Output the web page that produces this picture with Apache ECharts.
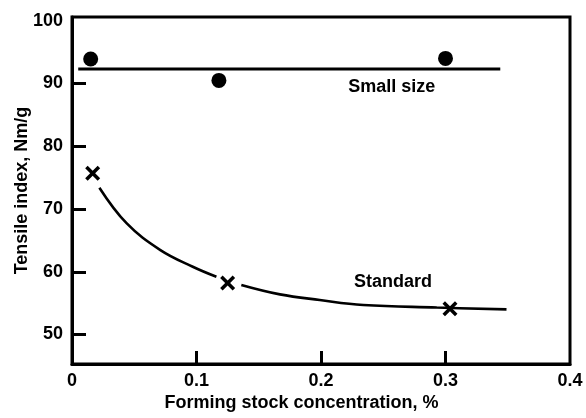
<!DOCTYPE html>
<html>
<head>
<meta charset="utf-8">
<script src="https://cdn.jsdelivr.net/npm/echarts@6/dist/echarts.min.js"></script>
<style>html,body{margin:0;padding:0;background:#fff}#c{width:586px;height:418px}</style>
</head>
<body>
<div id="c"></div>
<script>
// Data
var xTicks = [0, 0.1, 0.2, 0.3, 0.4];
var yTicks = [50, 60, 70, 80, 90, 100];
var smallX = [0.015, 0.118, 0.300];
var smallY = [93.9, 90.5, 94.0];
var smallFitX = [0.005, 0.344];
var smallFitY = [92.33, 92.33];
var stdX = [0.0166, 0.125, 0.3036];
var stdY = [75.7, 58.2, 54.1];
var curve1X = [0.022, 0.044, 0.071, 0.097, 0.116];
var curve1Y = [73.4, 67.7, 63.45, 60.8, 59.2];
var curve2X = [0.136, 0.167, 0.199, 0.234, 0.293, 0.349];
var curve2Y = [57.9, 56.4, 55.5, 54.7, 54.3, 54.0];
var annX = [0.2568, 0.2578];
var annY = [89.4, 58.4];
var annText = ['Small size', 'Standard'];

function zip(a, b) { return a.map(function (v, i) { return [v, b[i]]; }); }
var curveData = zip(curve1X, curve1Y).concat([[null, null]]).concat(zip(curve2X, curve2Y));
var annData = annX.map(function (v, i) { return { value: [v, annY[i]], name: annText[i] }; });

var font = '"Liberation Sans", Arial, sans-serif';
var xShape = 'path://M0,2L2,0L6,4L10,0L12,2L8,6L12,10L10,12L6,8L2,12L0,10L4,6Z';

var chart = echarts.init(document.getElementById('c'), null, { renderer: 'canvas' });
chart.setOption({
  animation: false,
  backgroundColor: '#fff',
  grid: { left: 72, right: 16, top: 17, bottom: 54, show: true, borderColor: '#000', borderWidth: 3,
    containLabel: false, outerBoundsMode: 'none' },
  xAxis: {
    type: 'value', min: 0, max: 0.4,
    name: 'Forming stock concentration, %', nameLocation: 'middle', nameGap: 30, nameMoveOverlap: false,
    nameTextStyle: { fontFamily: font, fontWeight: 'bold', fontSize: 18, color: '#000', padding: [0, 39, 0, 0] },
    axisLine: { show: true, lineStyle: { color: '#000', width: 3 } },
    axisTick: { show: true, inside: true, length: 13, lineStyle: { color: '#000', width: 3 }, customValues: [0.1, 0.2, 0.3] },
    axisLabel: { show: true, margin: 8, fontFamily: font, fontWeight: 'bold', fontSize: 18, color: '#000', customValues: xTicks,
      formatter: function (v) { return String(v); } },
    splitLine: { show: false }
  },
  yAxis: {
    type: 'value', min: 45.3, max: 100.6,
    name: 'Tensile index, Nm/g', nameLocation: 'middle', nameGap: 41, nameMoveOverlap: false,
    nameTextStyle: { fontFamily: font, fontWeight: 'bold', fontSize: 18, color: '#000' },
    axisLine: { show: true, lineStyle: { color: '#000', width: 3 } },
    axisTick: { show: true, inside: true, length: 14, lineStyle: { color: '#000', width: 3 }, customValues: [50, 60, 70, 80, 90] },
    axisLabel: { show: true, margin: 9, fontFamily: font, fontWeight: 'bold', fontSize: 18, color: '#000', customValues: yTicks },
    splitLine: { show: false }
  },
  series: [
    { type: 'line', data: zip(smallFitX, smallFitY), showSymbol: false, symbol: 'none',
      lineStyle: { color: '#000', width: 3 }, z: 2 },
    { type: 'line', data: curveData, smooth: 0.4, connectNulls: false, showSymbol: false, symbol: 'none',
      lineStyle: { color: '#000', width: 2.6 }, z: 2 },
    { type: 'scatter', data: zip(smallX, smallY), symbol: 'circle', symbolSize: 15,
      itemStyle: { color: '#000', opacity: 1 }, z: 3 },
    { type: 'scatter', data: zip(stdX, stdY), symbol: xShape, symbolSize: 15,
      itemStyle: { color: '#000', opacity: 1 }, z: 3 },
    { type: 'scatter', data: annData, symbolSize: 0, silent: true, itemStyle: { opacity: 1 },
      label: { show: true, position: 'inside', formatter: '{b}', fontFamily: font, fontWeight: 'bold', fontSize: 18, color: '#000' }, z: 4 }
  ]
});
</script>
</body>
</html>
